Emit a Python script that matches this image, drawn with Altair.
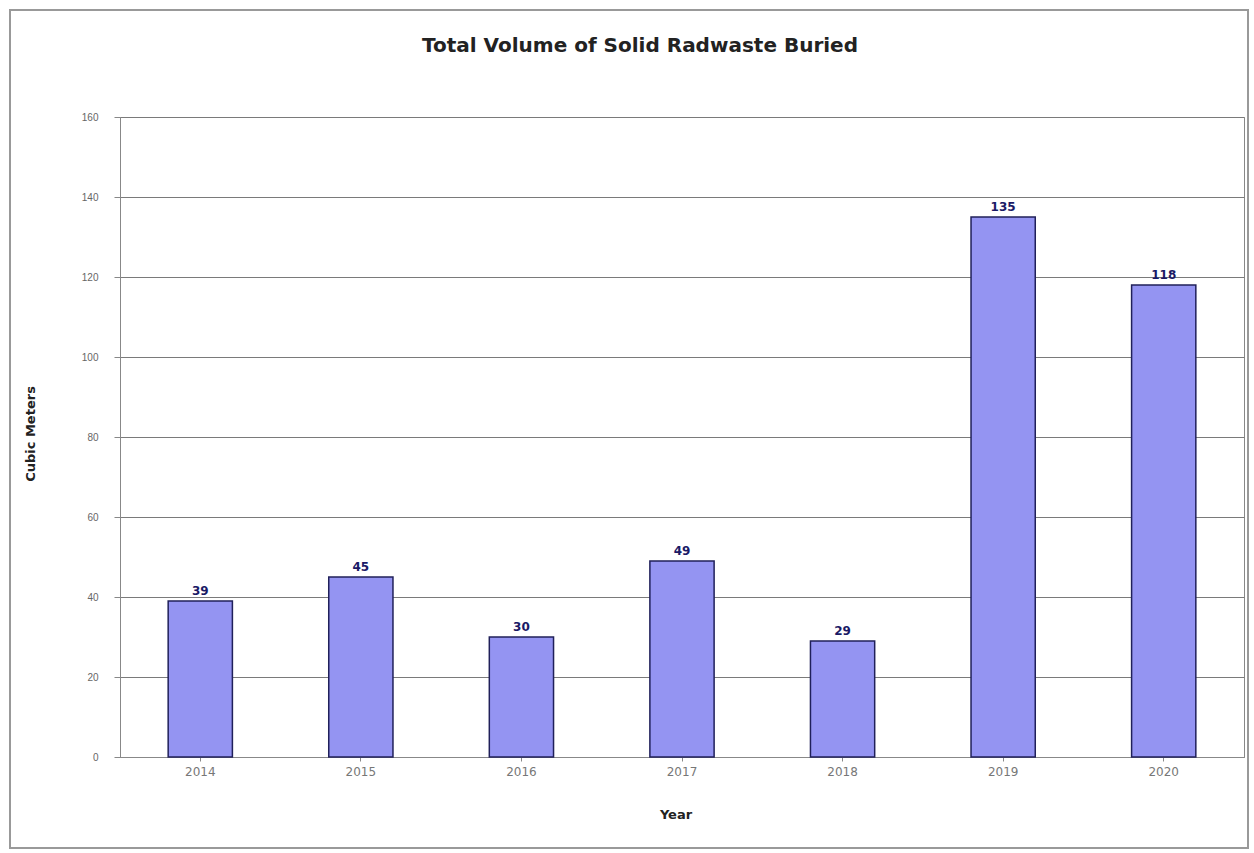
import altair as alt
import pandas as pd

title_text = "Total Volume of Solid Radwaste Buried"
x_title = "Year"
y_title = "Cubic Meters"
years = ["2014", "2015", "2016", "2017", "2018", "2019", "2020"]
volumes = [39, 45, 30, 49, 29, 135, 118]
y_ticks = [0, 20, 40, 60, 80, 100, 120, 140, 160]

df = pd.DataFrame({"Year": years, "Volume": volumes})
title_df = pd.DataFrame({"t": [title_text]})
xt_df = pd.DataFrame({"t": [x_title]})
yt_df = pd.DataFrame({"t": [y_title]})

W, H = 1124, 640
LEFT, TOP = 120, 117
WIDE = "DejaVu Sans"

x = alt.X("Year:N", sort=years,
          scale=alt.Scale(paddingInner=0.6, paddingOuter=0.3),
          axis=alt.Axis(title=None, labelAngle=0, labelFontSize=12, labelFont=WIDE,
                        labelColor="#777777", labelPadding=5, tickColor="#888888", tickSize=4,
                        domainColor="#888888"))
y = alt.Y("Volume:Q",
          scale=alt.Scale(domain=[0, 160], nice=False),
          axis=alt.Axis(title=None, values=y_ticks, labelFontSize=10,
                        labelColor="#666666", labelPadding=16, tickColor="#888888", tickSize=6,
                        domainColor="#888888", gridColor="#7a7a7a", gridWidth=1))

bars = alt.Chart(df).mark_bar(color="#9494F2", stroke="#20205a", strokeWidth=1.5).encode(x=x, y=y)
labels = alt.Chart(df).mark_text(dy=-10, fontSize=12, fontWeight="bold", color="#1a1a66",
                                 font=WIDE).encode(
    x=alt.X("Year:N", sort=years), y="Volume:Q", text="Volume:Q")

border = alt.Chart(df).mark_rect(fill=None, stroke="#999999", strokeWidth=1.5, clip=False).encode(
    x=alt.value(10 - LEFT), x2=alt.value(1248 - LEFT),
    y=alt.value(10 - TOP), y2=alt.value(848 - TOP))

title = alt.Chart(title_df).mark_text(fontSize=20, fontWeight="bold", color="#222222", font=WIDE,
                                      align="center", baseline="middle").encode(
    x=alt.value(640 - LEFT), y=alt.value(46 - TOP), text="t:N")

xtitle = alt.Chart(xt_df).mark_text(fontSize=13, fontWeight="bold", color="#222222", font=WIDE,
                                    align="center", baseline="middle").encode(
    x=alt.value(676 - LEFT), y=alt.value(815 - TOP), text="t:N")

ytitle = alt.Chart(yt_df).mark_text(fontSize=13, fontWeight="bold", color="#222222", angle=270,
                                    font=WIDE, align="center", baseline="middle").encode(
    x=alt.value(31 - LEFT), y=alt.value(434 - TOP), text="t:N")

chart = alt.layer(border, bars, labels, title, xtitle, ytitle).properties(
    width=W, height=H,
    autosize=alt.AutoSizeParams(type="none"),
    padding={"left": LEFT, "top": TOP, "right": 10, "bottom": 96},
).configure(font="Liberation Sans").configure_view(stroke="#888888", strokeWidth=1)

chart.save("out.html", embed_options={"renderer": "svg", "actions": False})
